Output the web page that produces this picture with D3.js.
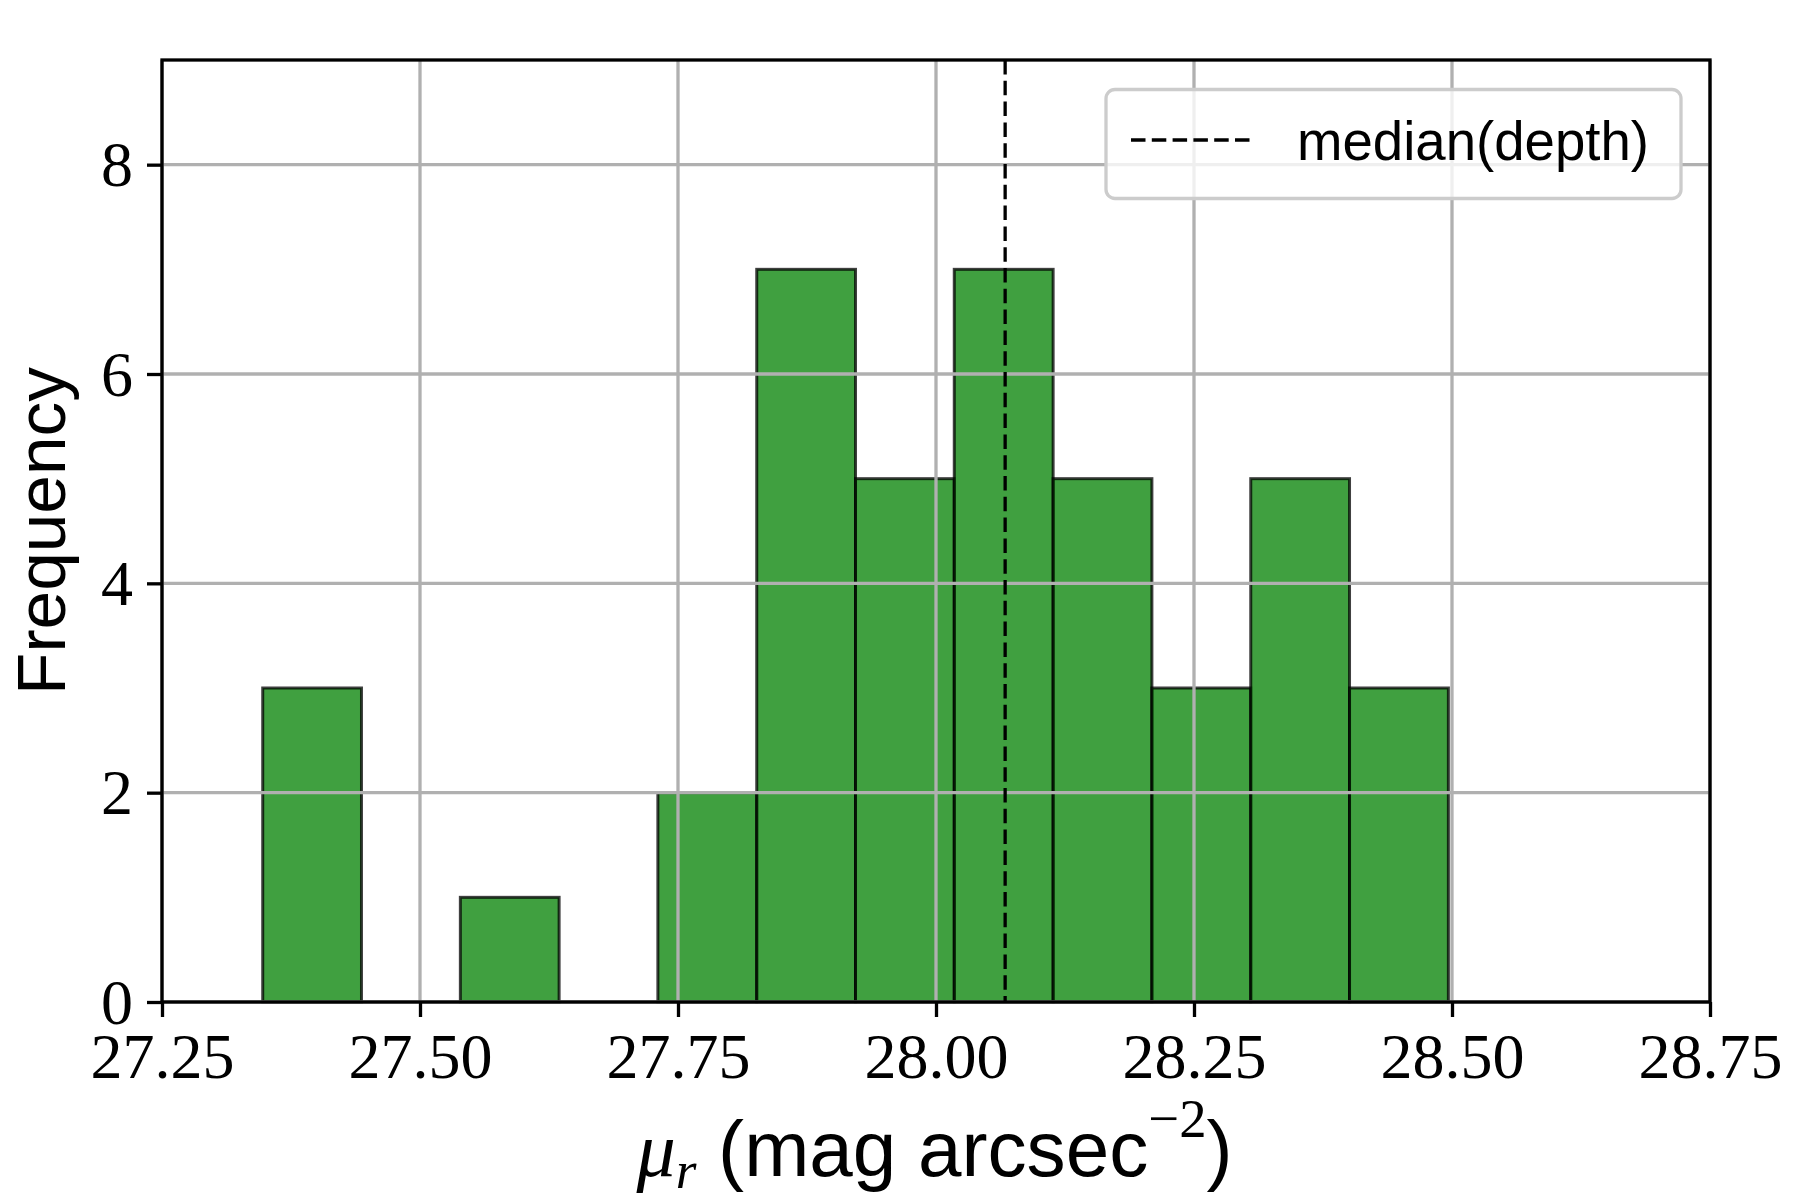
<!DOCTYPE html>
<html>
<head>
<meta charset="utf-8">
<script src="https://cdn.jsdelivr.net/npm/d3@7"></script>
<style>
  html, body { margin: 0; padding: 0; background: #fff; }
  svg { display: block; }
</style>
</head>
<body>
<svg id="chart" width="1800" height="1200"></svg>
<script>
// ---------------- data ----------------
const binEdges = [27.3476, 27.4433, 27.5391, 27.6348, 27.7305, 27.8263, 27.9220,
                  28.0177, 28.1135, 28.2092, 28.3050, 28.4007, 28.4965];
const binCounts = [3, 0, 1, 0, 2, 7, 5, 7, 5, 3, 5, 3];
const medianDepth = 28.067;
const xTicks = [27.25, 27.50, 27.75, 28.00, 28.25, 28.50, 28.75];
const yTicks = [0, 2, 4, 6, 8];
const legendLabels = ["median(depth)"];

const bins = binCounts.map((c, i) => ({x0: binEdges[i], x1: binEdges[i + 1], count: c}));

// ---------------- layout ----------------
const W = 1800, H = 1200;
const plot = {left: 162, right: 1710, top: 60, bottom: 1002};
const SANS = "'Liberation Sans', Arial, sans-serif";
const SERIF = "'Liberation Serif', 'Times New Roman', serif";
const LW = 3.3;

const svg = d3.select("#chart");
svg.append("rect").attr("width", W).attr("height", H).attr("fill", "#fff");

const x = d3.scaleLinear().domain([27.25, 28.75]).range([plot.left, plot.right]);
const y = d3.scaleLinear().domain([0, 9]).range([plot.bottom, plot.top]);

// bars (patches, below grid)
svg.append("g").selectAll("rect").data(bins.filter(d => d.count > 0)).join("rect")
  .attr("x", d => x(d.x0))
  .attr("y", d => y(d.count))
  .attr("width", d => x(d.x1) - x(d.x0))
  .attr("height", d => y(0) - y(d.count))
  .attr("fill", "rgb(0,128,0)")
  .attr("fill-opacity", 0.75)
  .attr("stroke", "#000")
  .attr("stroke-opacity", 0.75)
  .attr("stroke-width", 3);

// grid
const grid = svg.append("g");
grid.selectAll("line.gx").data(xTicks).join("line")
  .attr("x1", d => x(d)).attr("x2", d => x(d))
  .attr("y1", plot.top).attr("y2", plot.bottom)
  .attr("stroke", "#b0b0b0").attr("stroke-width", LW);
grid.selectAll("line.gy").data(yTicks).join("line")
  .attr("x1", plot.left).attr("x2", plot.right)
  .attr("y1", d => y(d)).attr("y2", d => y(d))
  .attr("stroke", "#b0b0b0").attr("stroke-width", LW);

// median line
svg.append("line")
  .attr("x1", x(medianDepth)).attr("x2", x(medianDepth))
  .attr("y1", plot.top).attr("y2", plot.bottom)
  .attr("stroke", "#000").attr("stroke-width", LW)
  .attr("stroke-dasharray", "14.5,6.3");

// axes
const xAxis = d3.axisBottom(x).tickValues(xTicks).tickSize(15).tickPadding(12)
  .tickFormat(d3.format(".2f"));
const yAxis = d3.axisLeft(y).tickValues(yTicks).tickSize(15).tickPadding(14)
  .tickFormat(d3.format("d"));

const gx = svg.append("g").attr("transform", `translate(0,${plot.bottom})`).call(xAxis);
const gy = svg.append("g").attr("transform", `translate(${plot.left},0)`).call(yAxis);
[gx, gy].forEach(g => {
  g.select(".domain").remove();
  g.selectAll(".tick line").attr("stroke", "#000").attr("stroke-width", LW);
  g.selectAll(".tick text").attr("fill", "#000")
    .attr("font-family", SERIF).attr("font-size", 64);
});
gx.selectAll(".tick text").attr("dy", null).attr("y", 76);
gy.selectAll(".tick text").attr("dy", "0.33em");

// spines
svg.append("rect")
  .attr("x", plot.left).attr("y", plot.top)
  .attr("width", plot.right - plot.left).attr("height", plot.bottom - plot.top)
  .attr("fill", "none").attr("stroke", "#000").attr("stroke-width", LW);

// legend
const lg = svg.append("g");
lg.append("rect")
  .attr("x", 1106).attr("y", 89.5).attr("width", 575).attr("height", 109)
  .attr("rx", 9).attr("ry", 9)
  .attr("fill", "#fff").attr("fill-opacity", 0.8)
  .attr("stroke", "#cccccc").attr("stroke-width", LW);
lg.append("line")
  .attr("x1", 1131).attr("x2", 1251).attr("y1", 140).attr("y2", 140)
  .attr("stroke", "#000").attr("stroke-width", LW)
  .attr("stroke-dasharray", "14.5,6.3");
const legText = lg.append("text")
  .attr("x", 1297).attr("y", 160)
  .attr("font-family", SANS).attr("font-size", 100)
  .attr("fill", "#000").text(legendLabels[0]);
{
  const len = legText.node().getComputedTextLength();
  legText.attr("font-size", 100 * 352 / len);
}

// y label
const yl = svg.append("text")
  .attr("font-family", SANS).attr("font-size", 100).attr("fill", "#000")
  .attr("text-anchor", "middle")
  .text("Frequency");
{
  const len = yl.node().getComputedTextLength();
  const fs = 100 * 328 / len;
  yl.attr("font-size", fs)
    .attr("transform", `translate(${0.91 * fs + 2},${(plot.top + plot.bottom) / 2}) rotate(-90)`);
}

// x label: mu_r (mag arcsec^{-2})
function drawXLabel(fs) {
  const t = svg.append("text").attr("fill", "#000").attr("font-size", fs)
    .attr("x", 0).attr("y", 0);
  t.append("tspan").attr("font-family", SERIF).attr("font-style", "italic").text("μ");
  t.append("tspan").attr("font-family", SERIF).attr("font-style", "italic")
    .attr("font-size", fs * 0.68).attr("dy", fs * 0.15).text("r");
  t.append("tspan").attr("font-family", SANS).attr("dy", -fs * 0.15).text(" (mag arcsec");
  t.append("tspan").attr("font-family", SERIF).attr("font-size", fs * 0.7)
    .attr("dy", -fs * 0.5).text("−2");
  t.append("tspan").attr("font-family", SANS).attr("dy", fs * 0.5).text(")");
  return t;
}
{
  let t = drawXLabel(100);
  const bb = t.node().getBBox();
  t.remove();
  const fs = 100 * 597 / bb.width;
  t = drawXLabel(fs);
  const bb2 = t.node().getBBox();
  t.attr("transform", `translate(${934 - bb2.width / 2 - bb2.x},1176)`);
}
</script>
</body>
</html>
